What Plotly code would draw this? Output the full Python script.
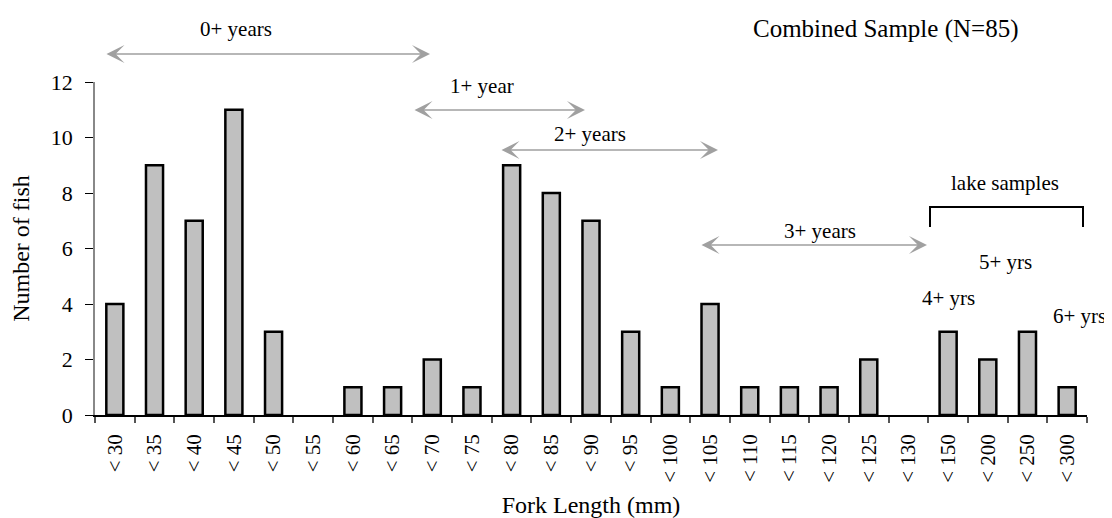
import plotly.graph_objects as go

# ---- data ----
categories = ["< 30", "< 35", "< 40", "< 45", "< 50", "< 55", "< 60", "< 65", "< 70", "< 75",
              "< 80", "< 85", "< 90", "< 95", "< 100", "< 105", "< 110", "< 115", "< 120",
              "< 125", "< 130", "< 150", "< 200", "< 250", "< 300"]
counts = [4, 9, 7, 11, 3, 0, 1, 1, 2, 1, 9, 8, 7, 3, 1, 4, 1, 1, 1, 2, 0, 3, 2, 3, 1]
y_ticks = [0, 2, 4, 6, 8, 10, 12]

FONT = "Liberation Serif, Times New Roman, serif"
OFF = 8  # page body margin offset of the figure div
W, H = 1112 - OFF, 518 - OFF
L, R, T, B = 95 - OFF, 25, 82 - OFF, 103
PW, PH = W - L - R, H - T - B


def px(xs):  # screen x pixel -> paper
    return (xs - OFF - L) / PW


def py(ys):  # screen y pixel -> paper
    return (H - B - (ys - OFF)) / PH


fig = go.Figure()
fig.add_trace(go.Bar(
    x=categories, y=[c if c > 0 else None for c in counts],
    marker=dict(color="#c0c0c0", line=dict(color="black", width=2.5)),
    showlegend=False,
))

annotations = []
# text labels (text, x pixel, y pixel center, size, anchor)
labels = [
    ("0+ years", 236, 29, 21, "center"),
    ("1+ year", 482, 86, 21, "center"),
    ("2+ years", 590, 134, 21, "center"),
    ("3+ years", 820, 231, 21, "center"),
    ("lake samples", 1005, 183, 21, "center"),
    ("5+ yrs", 1005, 262, 21, "center"),
    ("4+ yrs", 948, 298, 21, "center"),
    ("6+ yrs", 1108, 316, 21, "right"),
    ("Combined Sample (N=85)", 885, 29, 25, "center"),
]
for t, xp, yp, s, anc in labels:
    annotations.append(dict(text=t, x=px(xp), y=py(yp), xref="paper", yref="paper",
                            showarrow=False, xanchor=anc, yanchor="middle",
                            font=dict(family=FONT, size=s, color="black")))

# double-headed arrows (left px, right px, y px)
arrows = [(105, 430, 54), (413, 585, 110), (500, 718, 150), (700, 927, 245)]
for x0, x1, yp in arrows:
    annotations.append(dict(text="", x=px(x1), y=py(yp), xref="paper", yref="paper",
                            ax=-(x1 - x0), ay=0, axref="pixel", ayref="pixel",
                            showarrow=True, arrowhead=3, startarrowhead=3,
                            arrowside="end+start", arrowsize=2.0, startarrowsize=2.0,
                            arrowwidth=1.5, arrowcolor="#a0a0a0", standoff=0, startstandoff=0))

fig.update_layout(
    template="none",
    width=W, height=H,
    margin=dict(l=L, r=R, t=T, b=B, autoexpand=False),
    paper_bgcolor="white", plot_bgcolor="white",
    bargap=0.57,
    font=dict(family=FONT, size=21, color="black"),
    annotations=annotations,
    shapes=[dict(type="path", xref="paper", yref="paper",
                 path=f"M {px(930)},{py(227)} L {px(930)},{py(207)} L {px(1083)},{py(207)} L {px(1083)},{py(227)}",
                 line=dict(color="black", width=2))],
    xaxis=dict(type="category", tickson="boundaries", ticks="outside", ticklen=6,
               tickcolor="#555", tickwidth=1.5, tickangle=-90,
               showline=True, linecolor="black", linewidth=1.5,
               tickfont=dict(family=FONT, size=21), ticklabelstandoff=9,
               title=dict(text="Fork Length (mm)", font=dict(family=FONT, size=24), standoff=18),
               automargin=False, showgrid=False, zeroline=False),
    yaxis=dict(range=[0, 12], tickvals=y_ticks, ticks="outside", ticklen=8,
               tickcolor="black", tickwidth=1,
               showline=True, linecolor="#888", linewidth=1.5,
               showgrid=False, zeroline=False, automargin=False,
               tickfont=dict(family=FONT, size=22), ticklabelstandoff=8,
               title=dict(text="Number of fish", font=dict(family=FONT, size=24), standoff=20)),
)

fig.write_html("out.html")
